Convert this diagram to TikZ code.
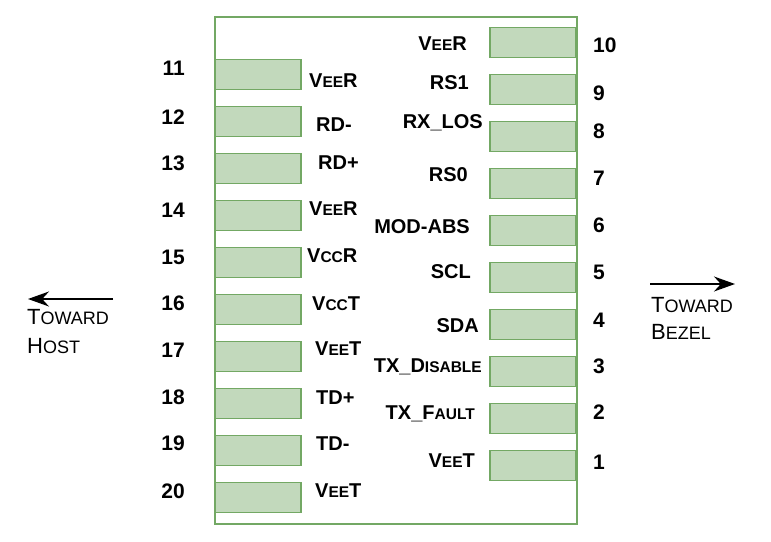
\documentclass[tikz,border=0pt]{standalone}
\usepackage{fontspec}
\setmainfont{Liberation Sans}
\usetikzlibrary{arrows.meta,positioning}
\definecolor{padfill}{RGB}{194,217,188}
\definecolor{padline}{RGB}{115,168,100}
\newcommand{\lsc}[1]{{\fontsize{15.5pt}{16pt}\selectfont #1}}
\newcommand{\tsc}[1]{{\fontsize{18pt}{19pt}\selectfont #1}}
\tikzset{%
	pad/.style     = {draw=padline, fill=padfill, line width=1.8pt, minimum width=86pt, minimum height=30pt, inner sep=0pt},
	pinnum/.style  = {font=\fontsize{21pt}{22pt}\selectfont\bfseries, inner sep=0pt, text height=15pt, text depth=0pt},
	pinname/.style = {font=\fontsize{20pt}{22pt}\selectfont\bfseries, inner sep=0pt, text height=14.3pt, text depth=0pt},
	dirtext/.style = {font=\fontsize{22pt}{24pt}\selectfont, inner sep=0pt, anchor=west, text height=15.8pt, text depth=0pt},
	arrow/.style   = {line width=1.5pt, -{Stealth[length=21pt,width=15pt]}},
}
\begin{document}
\begin{tikzpicture}[x=1pt,y=-1pt]
	\useasboundingbox (0,0) rectangle (771,541);
	% module outline
	\draw[padline, line width=2pt] (215,17) rectangle (577,524);
	% contact pads
	\foreach \n in {11,...,20} \node[pad] (pad\n) at (258,{74.5+47*(\n-11)}) {};
	\foreach \n in {1,...,10} \node[pad] (pad\n) at (533,{42.5+47*(10-\n)}) {};
	% pin numbers
	\foreach \n/\y in {11/68,12/117,13/163,14/210,15/257,16/303,17/350,18/397,19/443,20/491}
		\node[pinnum, anchor=east] (num\n) at (185,\y) {\n};
	\foreach \n/\y in {10/45,9/93,8/131,7/178,6/225,5/272,4/320,3/366,2/412,1/462}
		\node[pinnum, anchor=west] (num\n) at (593,\y) {\n};
	% pin names
	\foreach \n/\x/\y/\t in {11/309/80/{V\lsc{EE}R},12/316/124/{RD-},13/318/162/{RD+},14/309/208/{V\lsc{EE}R},
		15/307/255/{V\lsc{CC}R},16/312/303/{V\lsc{CC}T},17/315/348/{V\lsc{EE}T},18/316/397/{TD+},
		19/316/443/{TD-},20/315/490/{V\lsc{EE}T}}
		\node[pinname, anchor=west] (name\n) at (\x,\y) {\t};
	\foreach \n/\x/\y/\t in {10/467/43/{V\lsc{EE}R},9/469/82/{RS1},8/483/121/{RX\_LOS},7/468/174/{RS0},
		6/470/226/{MOD-ABS},5/471/271/{SCL},4/479/325/{SDA},3/482/365/{TX\_D\lsc{ISABLE}},
		2/475/412/{TX\_F\lsc{AULT}},1/475/460/{V\lsc{EE}T}}
		\node[pinname, anchor=east] (name\n) at (\x,\y) {\t};
	% directions
	\coordinate (hostfrom) at (113,299);
	\coordinate (hostto) at (28,299);
	\draw[arrow] (hostfrom) -- (hostto);
	\node[dirtext] (hostA) at (27,317) {T\tsc{OWARD}};
	\node[dirtext] (hostB) at (27,346) {H\tsc{OST}};
	\coordinate (bezelfrom) at (650,284);
	\coordinate (bezelto) at (735,284);
	\draw[arrow] (bezelfrom) -- (bezelto);
	\node[dirtext] (bezelA) at (651,305) {T\tsc{OWARD}};
	\node[dirtext] (bezelB) at (651,332) {B\tsc{EZEL}};
\end{tikzpicture}
\end{document}
